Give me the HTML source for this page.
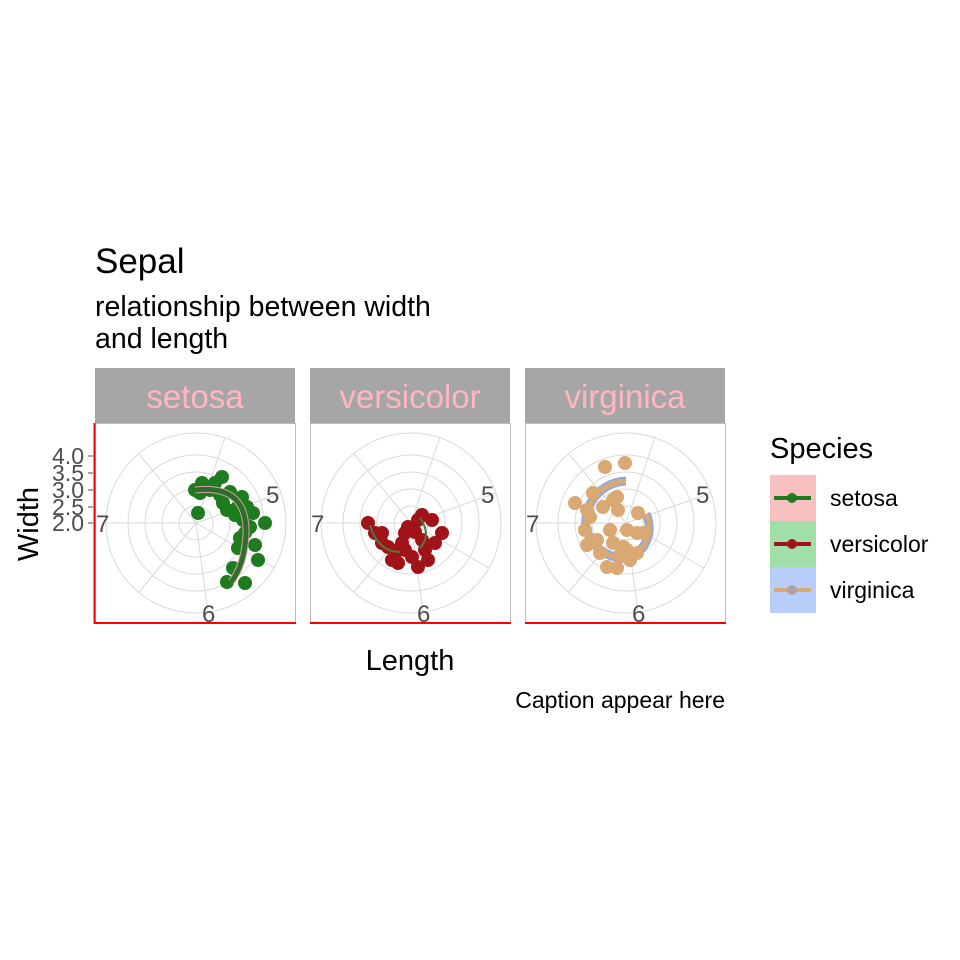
<!DOCTYPE html>
<html><head><meta charset="utf-8"><style>
body{margin:0;background:#fff;}
svg{display:block;font-family:"Liberation Sans",sans-serif;}
</style></head><body>
<svg width="960" height="960" xmlns="http://www.w3.org/2000/svg">
<defs>
<g id="grid" fill="none" stroke="#d9d9d9" stroke-width="1">
  <circle cx="0" cy="0" r="17"/><circle cx="0" cy="0" r="34"/><circle cx="0" cy="0" r="51"/><circle cx="0" cy="0" r="68"/><circle cx="0" cy="0" r="90"/>
  <line x1="0" y1="0" x2="85" y2="-30"/><line x1="0" y1="0" x2="-90" y2="0"/><line x1="0" y1="0" x2="12" y2="89"/>
  <line x1="0" y1="0" x2="29" y2="-86"/><line x1="0" y1="0" x2="-57" y2="-69"/><line x1="0" y1="0" x2="-57" y2="69"/><line x1="0" y1="0" x2="78" y2="45"/>
</g>
<g id="lab" font-size="24" fill="#4d4d4d">
  <text x="70" y="-20">5</text><text x="-100" y="9">7</text><text x="6" y="99">6</text>
</g>
</defs>

<text x="95" y="273" font-size="35" fill="#000">Sepal</text>
<text x="95" y="316" font-size="28.5" fill="#000">relationship between width</text>
<text x="95" y="348" font-size="28.5" fill="#000">and length</text>

<!-- strips -->
<rect x="95" y="368" width="200" height="55" fill="#a6a6a6"/>
<rect x="310" y="368" width="200" height="55" fill="#a6a6a6"/>
<rect x="525" y="368" width="200" height="55" fill="#a6a6a6"/>
<g font-size="33" fill="#ffb6c1" text-anchor="middle">
<text x="195" y="408">setosa</text><text x="410" y="408">versicolor</text><text x="625" y="408">virginica</text>
</g>

<!-- panels -->
<rect x="95.5" y="423.5" width="200" height="200" fill="#fff" stroke="#bdbdbd"/>
<rect x="310.5" y="423.5" width="200" height="200" fill="#fff" stroke="#bdbdbd"/>
<rect x="525.5" y="423.5" width="200" height="200" fill="#fff" stroke="#bdbdbd"/>
<use href="#grid" x="196" y="523"/><use href="#grid" x="411" y="523"/><use href="#grid" x="626" y="523"/>
<use href="#lab" x="196" y="523"/><use href="#lab" x="411" y="523"/><use href="#lab" x="626" y="523"/>

<!-- setosa -->
<g fill="#1e7b1e">
<circle cx="202" cy="483" r="7"/><circle cx="222" cy="477" r="7"/><circle cx="215" cy="483" r="7"/><circle cx="195" cy="490" r="7"/>
<circle cx="200" cy="493" r="7"/><circle cx="220" cy="495" r="7"/><circle cx="230" cy="492" r="7"/><circle cx="242" cy="497" r="7"/>
<circle cx="223" cy="503" r="7"/><circle cx="227" cy="510" r="7"/><circle cx="237" cy="508" r="7"/><circle cx="247" cy="507" r="7"/>
<circle cx="253" cy="513" r="7"/><circle cx="265" cy="523" r="7"/><circle cx="250" cy="527" r="7"/><circle cx="245" cy="533" r="7"/>
<circle cx="240" cy="538" r="7"/><circle cx="238" cy="548" r="7"/><circle cx="255" cy="545" r="7"/><circle cx="258" cy="560" r="7"/>
<circle cx="233" cy="568" r="7"/><circle cx="227" cy="582" r="7"/><circle cx="245" cy="583" r="7"/><circle cx="198" cy="513" r="7"/>
<circle cx="210" cy="490" r="7"/><circle cx="235" cy="515" r="7"/><circle cx="243" cy="520" r="7"/>
</g>
<path d="M195 490 Q248 484 246 535 Q244 566 231 582" fill="none" stroke="#d9a0a0" stroke-width="7"/>
<path d="M195 490 Q248 484 246 535 Q244 566 231 582" fill="none" stroke="#2d6e2d" stroke-width="5"/>

<!-- versicolor -->
<g fill="#a01419">
<circle cx="368" cy="523" r="7"/><circle cx="375" cy="533" r="7"/><circle cx="382" cy="543" r="7"/><circle cx="388" cy="547" r="7"/>
<circle cx="392" cy="560" r="7"/><circle cx="398" cy="563" r="7"/><circle cx="405" cy="533" r="7"/><circle cx="408" cy="527" r="7"/>
<circle cx="418" cy="520" r="7"/><circle cx="422" cy="515" r="7"/><circle cx="432" cy="520" r="7"/><circle cx="442" cy="533" r="7"/>
<circle cx="435" cy="543" r="7"/><circle cx="425" cy="550" r="7"/><circle cx="418" cy="567" r="7"/><circle cx="412" cy="557" r="7"/>
<circle cx="405" cy="550" r="7"/><circle cx="422" cy="540" r="7"/><circle cx="415" cy="532" r="7"/><circle cx="402" cy="543" r="7"/>
<circle cx="382" cy="533" r="7"/><circle cx="428" cy="560" r="7"/><circle cx="398" cy="550" r="7"/>
</g>
<path d="M370 525 Q378 552 400 552" fill="none" stroke="#4e7a3a" stroke-width="2"/>
<path d="M420 518 Q432 535 420 548" fill="none" stroke="#4e7a3a" stroke-width="2"/>

<!-- virginica -->
<path d="M626 481 A42 42 0 0 0 586 528 A40 40 0 0 0 628 558 A32 32 0 0 0 646 514" fill="none" stroke="#8fa8e0" stroke-width="9"/>
<g fill="#d9a873">
<circle cx="605" cy="467" r="7"/><circle cx="625" cy="463" r="7"/><circle cx="575" cy="503" r="7"/><circle cx="587" cy="510" r="7"/>
<circle cx="603" cy="507" r="7"/><circle cx="613" cy="500" r="7"/><circle cx="617" cy="497" r="7"/><circle cx="638" cy="513" r="7"/>
<circle cx="585" cy="530" r="7"/><circle cx="587" cy="545" r="7"/><circle cx="610" cy="530" r="7"/><circle cx="627" cy="530" r="7"/>
<circle cx="637" cy="533" r="7"/><circle cx="613" cy="543" r="7"/><circle cx="623" cy="547" r="7"/><circle cx="637" cy="553" r="7"/>
<circle cx="600" cy="553" r="7"/><circle cx="607" cy="567" r="7"/><circle cx="617" cy="568" r="7"/><circle cx="627" cy="550" r="7"/>
<circle cx="643" cy="533" r="7"/><circle cx="597" cy="540" r="7"/><circle cx="618" cy="510" r="7"/><circle cx="593" cy="493" r="7"/>
<circle cx="590" cy="517" r="7"/><circle cx="630" cy="560" r="7"/><circle cx="620" cy="555" r="7"/>
</g>
<path d="M626 481 A42 42 0 0 0 586 528 A40 40 0 0 0 628 558 A32 32 0 0 0 646 514" fill="none" stroke="#d9a873" stroke-width="5"/>

<!-- axes -->
<line x1="94.5" y1="423" x2="94.5" y2="624" stroke="#ff0000" stroke-width="2"/>
<line x1="94" y1="623" x2="296" y2="623" stroke="#ff0000" stroke-width="2"/>
<line x1="310" y1="623" x2="511" y2="623" stroke="#ff0000" stroke-width="2"/>
<line x1="525" y1="623" x2="726" y2="623" stroke="#ff0000" stroke-width="2"/>
<g stroke="#4d4d4d" stroke-width="1">
<line x1="88" y1="456" x2="93" y2="456"/><line x1="88" y1="473" x2="93" y2="473"/><line x1="88" y1="490" x2="93" y2="490"/><line x1="88" y1="507" x2="93" y2="507"/><line x1="88" y1="523" x2="93" y2="523"/>
</g>
<g font-size="23" fill="#4d4d4d" text-anchor="end">
<text x="84" y="464">4.0</text><text x="84" y="481">3.5</text><text x="84" y="498">3.0</text><text x="84" y="515">2.5</text><text x="84" y="531">2.0</text>
</g>
<text x="410" y="670" font-size="29" text-anchor="middle" fill="#000">Length</text>
<text transform="translate(38,524) rotate(-90)" font-size="29" text-anchor="middle" fill="#000">Width</text>
<text x="725" y="708" font-size="23" text-anchor="end" fill="#000">Caption appear here</text>

<!-- legend -->
<text x="770" y="458" font-size="29" fill="#000">Species</text>
<rect x="770" y="475" width="46" height="46" fill="#f8c0c0"/>
<rect x="770" y="521" width="46" height="46" fill="#a0e0a8"/>
<rect x="770" y="567" width="46" height="46" fill="#b8cdfa"/>
<line x1="774" y1="498" x2="811" y2="498" stroke="#1e7b1e" stroke-width="4"/><circle cx="792" cy="498" r="5" fill="#1e7b1e"/>
<line x1="774" y1="544" x2="811" y2="544" stroke="#a01419" stroke-width="4"/><circle cx="792" cy="544" r="5" fill="#a01419"/>
<line x1="774" y1="590" x2="811" y2="590" stroke="#d9a873" stroke-width="4"/><circle cx="792" cy="590" r="5" fill="#b0a0a8"/>
<g font-size="23" fill="#000">
<text x="830" y="506">setosa</text><text x="830" y="552">versicolor</text><text x="830" y="598">virginica</text>
</g>
</svg>
</body></html>
